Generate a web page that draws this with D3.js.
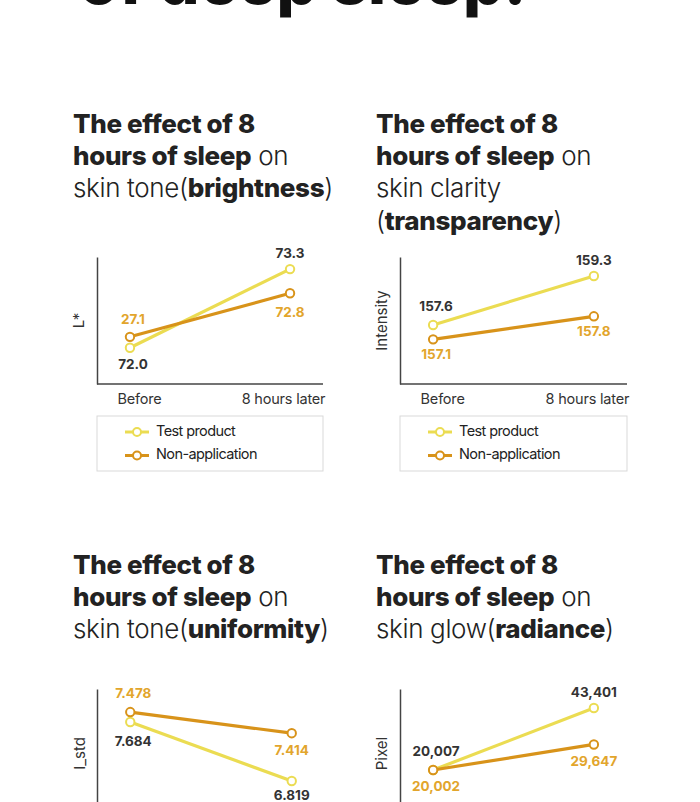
<!DOCTYPE html>
<html>
<head>
<meta charset="utf-8">
<script src="https://cdn.jsdelivr.net/npm/d3@7"></script>
<style>
  html, body { margin: 0; padding: 0; background: #fff; }
  svg { display: block; }
  text { font-family: Inter, "Noto Sans", sans-serif; }
</style>
</head>
<body>
<svg id="chart" width="700" height="802"></svg>
<script>
// ---------- DATA ----------
const categories = ["Before", "8 hours later"];
const seriesNames = ["Test product", "Non-application"];

// Panel 1: skin tone (brightness), L*
const brightnessTest = [72.0, 73.3];
const brightnessNonApp = [72.18, 72.9];
const brightnessTestLabels = ["72.0", "73.3"];
const brightnessNonAppLabels = ["27.1", "72.8"];

// Panel 2: skin clarity (transparency), Intensity
const clarityTest = [157.6, 159.3];
const clarityNonApp = [157.1, 157.9];
const clarityTestLabels = ["157.6", "159.3"];
const clarityNonAppLabels = ["157.1", "157.8"];

// Panel 3: skin tone (uniformity), I_std
const uniformityTest = [7.684, 6.819];
const uniformityNonApp = [7.83, 7.52];
const uniformityTestLabels = ["7.684", "6.819"];
const uniformityNonAppLabels = ["7.478", "7.414"];

// Panel 4: skin glow (radiance), Pixel
const radianceTest = [20007, 43401];
const radianceNonApp = [20002, 29647];
const radianceTestLabels = ["20,007", "43,401"];
const radianceNonAppLabels = ["20,002", "29,647"];

// Titles: [text, bold?] segments per line
const titleBrightness = [[["The effect of 8", true]], [["hours of sleep", true], [" on", false]], [["skin tone(", false], ["brightness", true], [")", false]]];
const titleClarity = [[["The effect of 8", true]], [["hours of sleep", true], [" on", false]], [["skin clarity", false]], [["(", false], ["transparency", true], [")", false]]];
const titleUniformity = [[["The effect of 8", true]], [["hours of sleep", true], [" on", false]], [["skin tone(", false], ["uniformity", true], [")", false]]];
const titleRadiance = [[["The effect of 8", true]], [["hours of sleep", true], [" on", false]], [["skin glow(", false], ["radiance", true], [")", false]]];

const headline = "of deep sleep.";

// ---------- STYLE ----------
const colTest = "#ebdc52";
const colNon = "#d8931a";
const colTestLabel = "#333333";
const colNonLabel = "#e2a52c";
const dark = "#222222";

const svg = d3.select("#chart");

// headline (cut off at top, as in the source image)
svg.append("text")
  .attr("x", 79).attr("y", 4)
  .attr("font-size", 64).attr("font-weight", 800)
  .attr("fill", "#111")
  .text(headline);

const panels = [
  { title: titleBrightness, tx: 73, ty: 133, left: 97, right: 323, top: 257, bottom: 384,
    domain: [71.4, 73.5], ylab: "L*", ylx: 80,
    test: brightnessTest, non: brightnessNonApp, tl: brightnessTestLabels, nl: brightnessNonAppLabels,
    tdy: [18, -15], ndy: [-17, 20], legend: true, xlabels: true },
  { title: titleClarity, tx: 376, ty: 133, left: 400, right: 627, top: 257, bottom: 384,
    domain: [155.55, 159.96], ylab: "Intensity", ylx: 383,
    test: clarityTest, non: clarityNonApp, tl: clarityTestLabels, nl: clarityNonAppLabels,
    tdy: [-18, -15], ndy: [16, 16], legend: true, xlabels: true },
  { title: titleUniformity, tx: 73, ty: 574, left: 97, right: 325, top: 689, bottom: 816,
    domain: [6.306, 8.168], ylab: "I_std", ylx: 81,
    test: uniformityTest, non: uniformityNonApp, tl: uniformityTestLabels, nl: uniformityNonAppLabels,
    tdy: [20, 15], ndy: [-18, 18], legend: false, xlabels: false },
  { title: titleRadiance, tx: 376, ty: 574, left: 400, right: 627, top: 689, bottom: 816,
    domain: [2650, 50570], ylab: "Pixel", ylx: 383,
    test: radianceTest, non: radianceNonApp, tl: radianceTestLabels, nl: radianceNonAppLabels,
    tdy: [-18, -15], ndy: [17, 18], legend: false, xlabels: false }
];

panels.forEach(p => {
  // Title
  const t = svg.append("text").attr("x", p.tx).attr("y", p.ty)
    .attr("font-size", 26).attr("fill", dark).attr("letter-spacing", "-0.35");
  p.title.forEach((line, i) => {
    line.forEach((seg, j) => {
      const ts = t.append("tspan").text(seg[0])
        .attr("font-weight", seg[1] ? 800 : 300);
      if (j === 0) ts.attr("x", p.tx).attr("dy", i === 0 ? 0 : 32.2);
    });
  });

  const x = d3.scalePoint().domain(categories).range([p.left, p.right]).padding(0.206);
  const y = d3.scaleLinear().domain(p.domain).range([p.bottom, p.top]);

  const g = svg.append("g");

  // y axis line
  g.append("g").attr("transform", `translate(${p.left},0)`)
    .call(d3.axisLeft(y).tickValues([]).tickSizeOuter(0))
    .call(s => s.select(".domain").attr("stroke", "#444").attr("stroke-width", 1.5));
  // x axis
  const xa = g.append("g").attr("transform", `translate(0,${p.bottom})`)
    .call(d3.axisBottom(x).tickSize(0).tickSizeOuter(0).tickPadding(10));
  xa.select(".domain").attr("stroke", "#444").attr("stroke-width", 1.5)
    .attr("d", `M${p.left},0H${p.right}`);
  if (p.xlabels) {
    xa.selectAll(".tick text")
      .attr("font-family", "Inter, 'Noto Sans', sans-serif")
      .attr("font-size", 14.5).attr("fill", "#333").attr("letter-spacing", "-0.2")
      .attr("dx", (d, i) => i === 0 ? 9 : -7);
  } else {
    xa.selectAll(".tick text").remove();
  }

  // y label
  g.append("text")
    .attr("transform", `translate(${p.ylx},${(p.top + Math.min(p.bottom, 802)) / 2 + (p.bottom > 802 ? 8 : 0)}) rotate(-90)`)
    .attr("text-anchor", "middle").attr("dominant-baseline", "middle")
    .attr("font-size", 15).attr("fill", "#333")
    .text(p.ylab);

  const line = d3.line().x((d, i) => x(categories[i])).y(d => y(d));
  const series = [
    { vals: p.non, col: colNon, labs: p.nl, lc: colNonLabel, dy: p.ndy },
    { vals: p.test, col: colTest, labs: p.tl, lc: colTestLabel, dy: p.tdy }
  ];
  [series[1], series[0]].forEach(s => {
    g.append("path").datum(s.vals).attr("d", line)
      .attr("fill", "none").attr("stroke", s.col).attr("stroke-width", 3.2);
    g.selectAll(null).data(s.vals).enter().append("circle")
      .attr("cx", (d, i) => x(categories[i])).attr("cy", d => y(d))
      .attr("r", 4.2).attr("fill", "#fff").attr("stroke", s.col).attr("stroke-width", 2);
  });
  series.forEach(s => {
    g.selectAll(null).data(s.vals).enter().append("text")
      .attr("x", (d, i) => x(categories[i]) + (i === 0 ? 3 : 0))
      .attr("y", (d, i) => y(d) + s.dy[i])
      .attr("text-anchor", "middle").attr("dominant-baseline", "middle")
      .attr("font-size", 13.5).attr("font-weight", 700).attr("fill", s.lc)
      .text((d, i) => s.labs[i]);
  });

  if (p.legend) {
    const lg = svg.append("g");
    lg.append("rect").attr("x", p.left).attr("y", 416)
      .attr("width", p.right - p.left).attr("height", 55)
      .attr("fill", "#fff").attr("stroke", "#d9d9d9").attr("stroke-width", 1);
    const items = [{ n: seriesNames[0], c: colTest }, { n: seriesNames[1], c: colNon }];
    items.forEach((it, i) => {
      const yy = 432 + i * 23.5;
      lg.append("line").attr("x1", p.left + 28).attr("x2", p.left + 52)
        .attr("y1", yy).attr("y2", yy).attr("stroke", it.c).attr("stroke-width", 3);
      lg.append("circle").attr("cx", p.left + 40).attr("cy", yy).attr("r", 4)
        .attr("fill", "#fff").attr("stroke", it.c).attr("stroke-width", 2);
      lg.append("text").attr("x", p.left + 59).attr("y", yy)
        .attr("dominant-baseline", "middle").attr("font-size", 14.5)
        .attr("fill", "#222").attr("letter-spacing", "-0.6").text(it.n);
    });
  }
});
</script>
</body>
</html>
